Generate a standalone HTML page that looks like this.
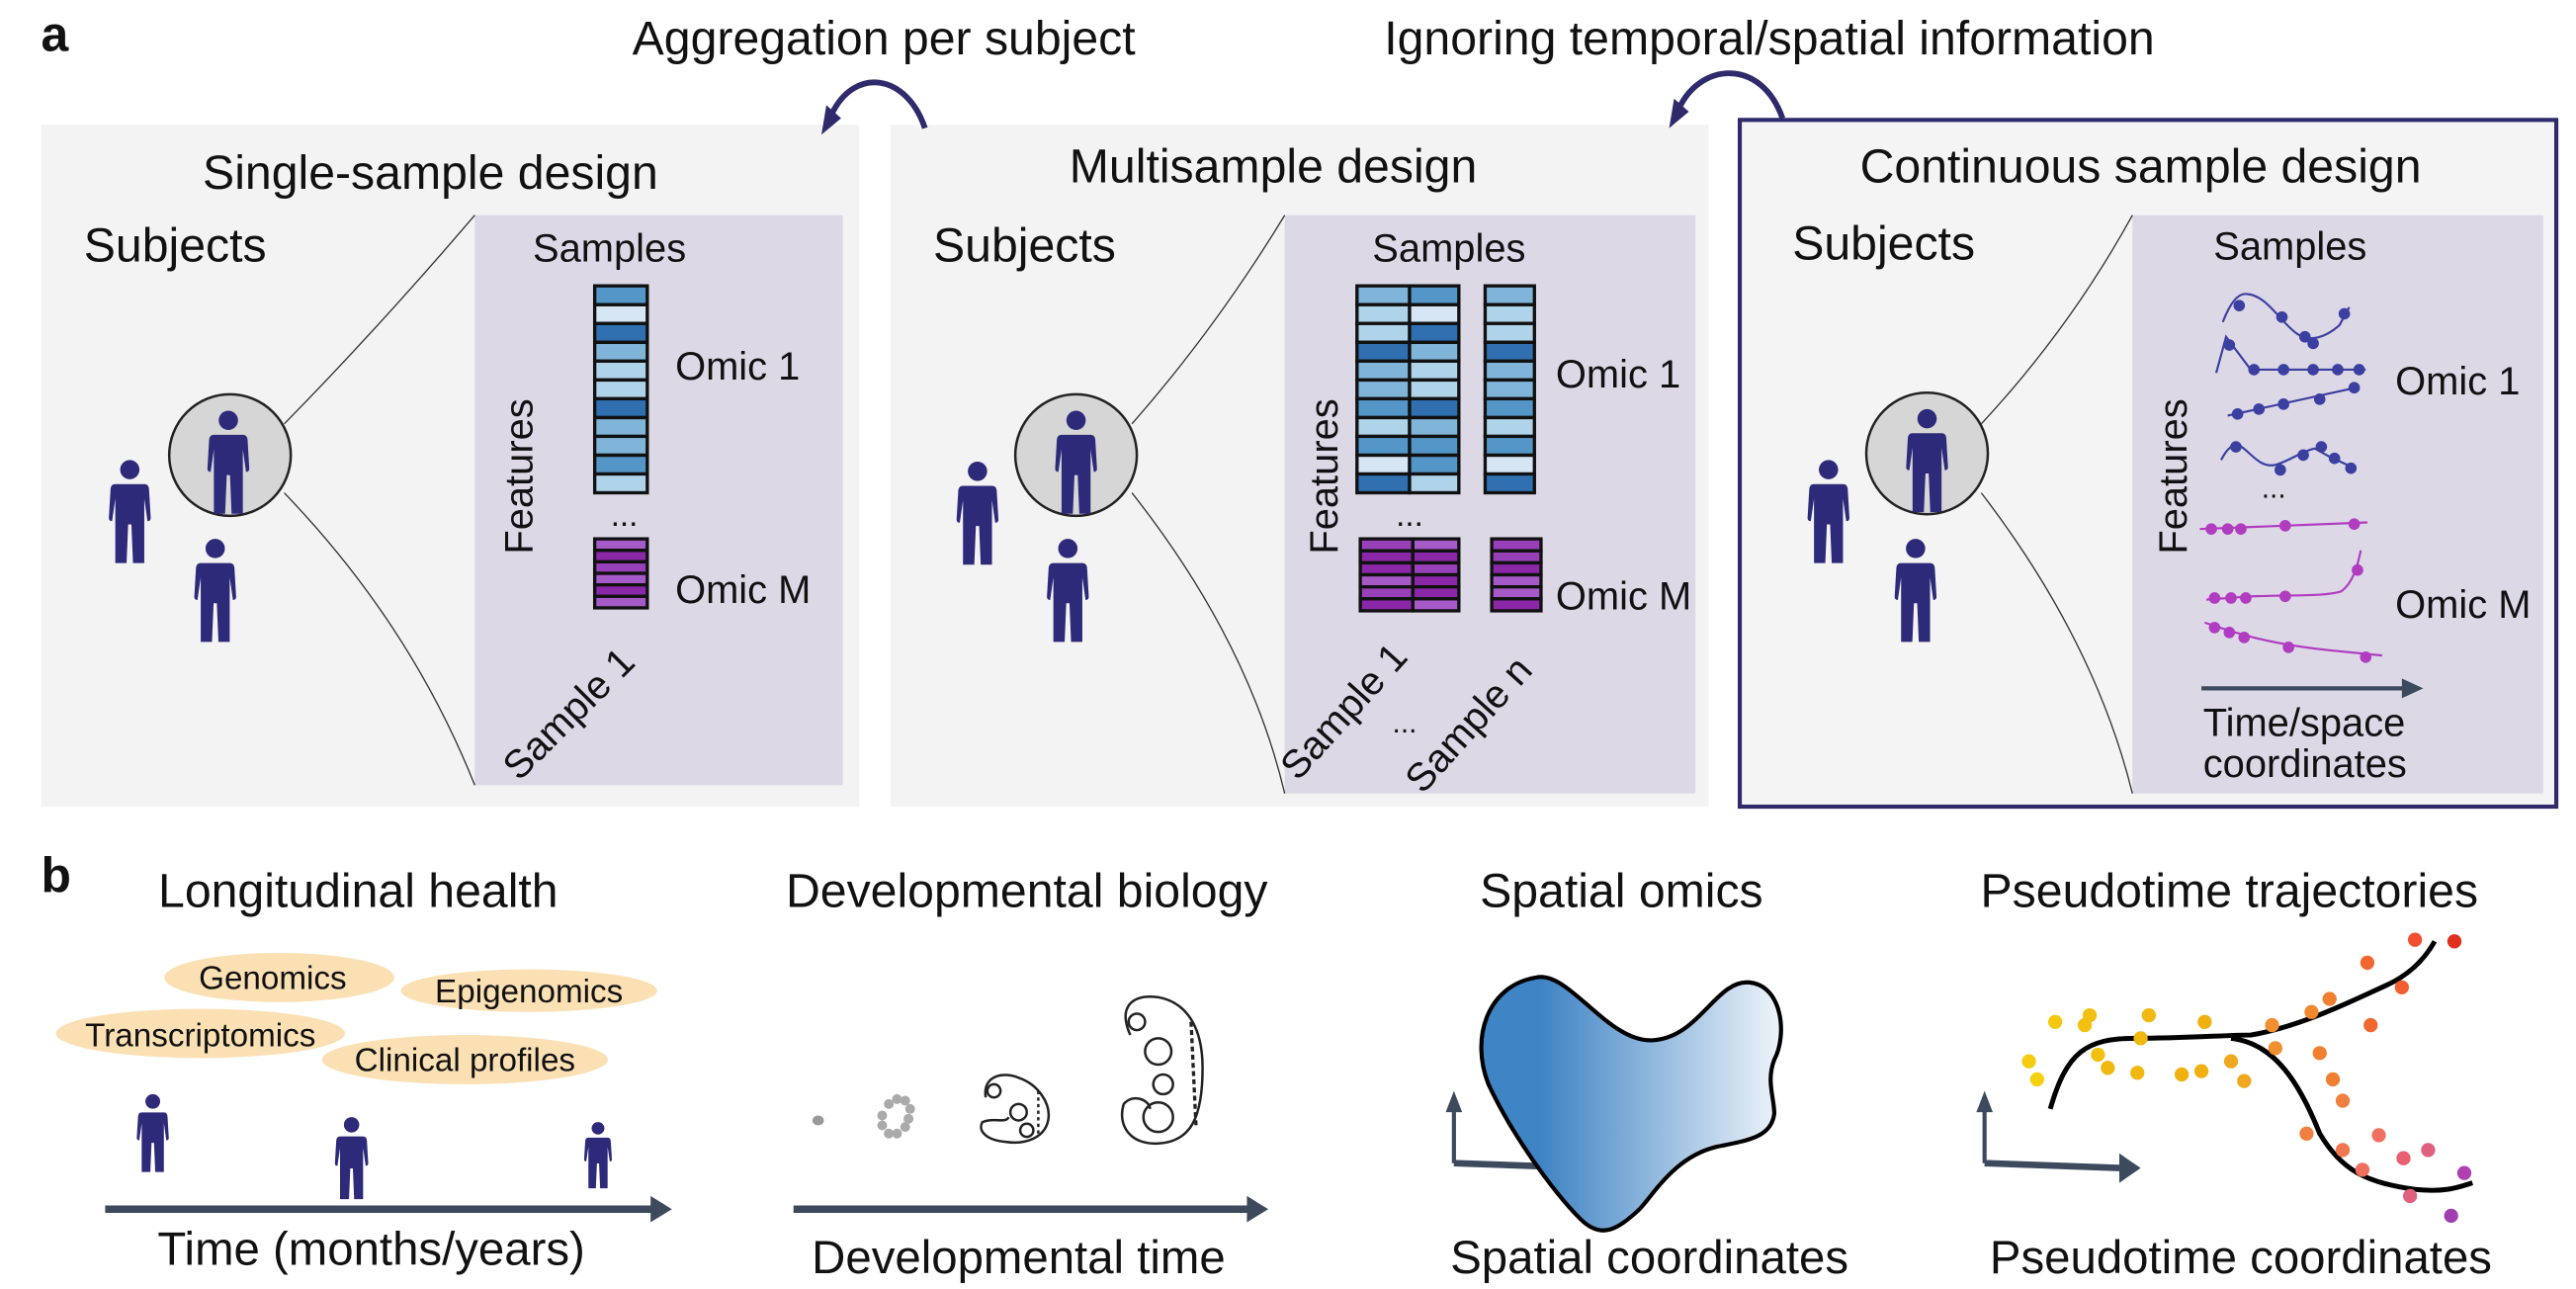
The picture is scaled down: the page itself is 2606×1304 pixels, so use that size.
<!DOCTYPE html>
<html><head><meta charset="utf-8"><style>
html,body{margin:0;padding:0;background:#fff;}
svg{display:block;}
text{font-family:"Liberation Sans",sans-serif;fill:#111;}
</style></head><body>
<svg width="2606" height="1304" viewBox="0 0 1568 784.6" preserveAspectRatio="none" xmlns="http://www.w3.org/2000/svg">
<defs>
<g id="p"><circle cx="0" cy="6" r="6" fill="#2e2a7a"/><path d="M-9,15 Q-12,15 -12,19 L-13,36 Q-13,38 -11,38 L-9,24 L-9,64 L-2,64 L-1,40 L1,40 L2,64 L9,64 L9,24 L11,38 Q13,38 13,36 L12,19 Q12,15 9,15 Z" fill="#2e2a7a"/></g>
<linearGradient id="bg" x1="0" x2="1"><stop offset="0.2" stop-color="#3f84c4"/><stop offset="1" stop-color="#eef4fa"/></linearGradient>
</defs>

<text x="25" y="31" font-size="30" font-weight="bold">a</text>
<text x="538" y="33" font-size="29" text-anchor="middle">Aggregation per subject</text>
<text x="1077" y="33" font-size="29" text-anchor="middle">Ignoring temporal/spatial information</text>

<rect x="25" y="76" width="498" height="415" fill="#f3f3f3"/>
<rect x="289" y="131" width="224" height="347" fill="#dcd8e6"/>
<rect x="542" y="76" width="498" height="415" fill="#f3f3f3"/>
<rect x="782" y="131" width="250" height="352" fill="#dcd8e6"/>
<rect x="1059" y="73" width="497" height="418" fill="#f4f4f4" stroke="#2e2a6b" stroke-width="2.5"/>
<rect x="1298" y="131" width="250" height="352" fill="#dcd8e6"/>

<path d="M563,78 C552,45 520,40 506,70" fill="none" stroke="#2e2a6b" stroke-width="3.5"/>
<path d="M500,82 L503,64 L512,72 Z" fill="#2e2a6b"/>
<path d="M1085,72 C1072,35 1035,38 1022,66" fill="none" stroke="#2e2a6b" stroke-width="3.5"/>
<path d="M1016,78 L1019,60 L1028,68 Z" fill="#2e2a6b"/>

<text x="262" y="115" font-size="29" text-anchor="middle">Single-sample design</text>
<text x="775" y="111" font-size="29" text-anchor="middle">Multisample design</text>
<text x="1303" y="111" font-size="29" text-anchor="middle">Continuous sample design</text>

<text x="51" y="159" font-size="29">Subjects</text>
<text x="568" y="159" font-size="29">Subjects</text>
<text x="1091" y="158" font-size="29">Subjects</text>

<text x="371" y="159" font-size="24" text-anchor="middle">Samples</text>
<text x="882" y="159" font-size="24" text-anchor="middle">Samples</text>
<text x="1394" y="158" font-size="24" text-anchor="middle">Samples</text>

<path d="M173,258 Q230,200 289,131" fill="none" stroke="#333" stroke-width="0.8"/>
<path d="M173,300 Q250,380 289,478" fill="none" stroke="#333" stroke-width="0.8"/>
<path d="M689,258 Q740,200 782,131" fill="none" stroke="#333" stroke-width="0.8"/>
<path d="M689,300 Q760,390 782,483" fill="none" stroke="#333" stroke-width="0.8"/>
<path d="M1206,258 Q1260,200 1298,131" fill="none" stroke="#333" stroke-width="0.8"/>
<path d="M1206,300 Q1275,390 1298,483" fill="none" stroke="#333" stroke-width="0.8"/>

<circle cx="140" cy="277" r="37" fill="#d6d6d6" stroke="#222" stroke-width="1.5"/>
<use href="#p" transform="translate(139,250) scale(0.98)"/>
<use href="#p" transform="translate(79,280) scale(0.98)"/>
<use href="#p" transform="translate(131,328) scale(0.98)"/>
<circle cx="655" cy="277" r="37" fill="#d6d6d6" stroke="#222" stroke-width="1.5"/>
<use href="#p" transform="translate(655,250) scale(0.98)"/>
<use href="#p" transform="translate(595,281) scale(0.98)"/>
<use href="#p" transform="translate(650,328) scale(0.98)"/>
<circle cx="1173" cy="276" r="37" fill="#d6d6d6" stroke="#222" stroke-width="1.5"/>
<use href="#p" transform="translate(1173,249) scale(0.98)"/>
<use href="#p" transform="translate(1113,280) scale(0.98)"/>
<use href="#p" transform="translate(1166,328) scale(0.98)"/>

<g stroke="#111" stroke-width="2">
<rect x="362" y="174.0" width="32" height="11.45" fill="#5596c8"/>
<rect x="362" y="185.5" width="32" height="11.45" fill="#d6e6f4"/>
<rect x="362" y="196.9" width="32" height="11.45" fill="#3070b0"/>
<rect x="362" y="208.4" width="32" height="11.45" fill="#80b4d8"/>
<rect x="362" y="219.8" width="32" height="11.45" fill="#afd3e8"/>
<rect x="362" y="231.3" width="32" height="11.45" fill="#afd3e8"/>
<rect x="362" y="242.7" width="32" height="11.45" fill="#3070b0"/>
<rect x="362" y="254.2" width="32" height="11.45" fill="#80b4d8"/>
<rect x="362" y="265.6" width="32" height="11.45" fill="#80b4d8"/>
<rect x="362" y="277.1" width="32" height="11.45" fill="#5596c8"/>
<rect x="362" y="288.5" width="32" height="11.45" fill="#afd3e8"/>
<rect x="362" y="328" width="32" height="7" fill="#a65ac8"/>
<rect x="362" y="335" width="32" height="7" fill="#8a28a8"/>
<rect x="362" y="342" width="32" height="7" fill="#9840b8"/>
<rect x="362" y="349" width="32" height="7" fill="#a65ac8"/>
<rect x="362" y="356" width="32" height="7" fill="#8a28a8"/>
<rect x="362" y="363" width="32" height="7" fill="#a65ac8"/>
</g>
<text x="411" y="231" font-size="24">Omic 1</text>
<text x="411" y="367" font-size="24">Omic M</text>
<text x="0" y="0" font-size="24" text-anchor="middle" transform="translate(324,290) rotate(-90)">Features</text>
<text x="380" y="320" font-size="20" text-anchor="middle">...</text>
<text x="0" y="0" font-size="24" transform="translate(316,476) rotate(-45)">Sample 1</text>

<g stroke="#111" stroke-width="2">
<rect x="826" y="174.0" width="32" height="11.45" fill="#80b4d8"/><rect x="858" y="174.0" width="30" height="11.45" fill="#5596c8"/><rect x="904" y="174.0" width="30" height="11.45" fill="#80b4d8"/>
<rect x="826" y="185.5" width="32" height="11.45" fill="#afd3e8"/><rect x="858" y="185.5" width="30" height="11.45" fill="#d6e6f4"/><rect x="904" y="185.5" width="30" height="11.45" fill="#afd3e8"/>
<rect x="826" y="196.9" width="32" height="11.45" fill="#afd3e8"/><rect x="858" y="196.9" width="30" height="11.45" fill="#3070b0"/><rect x="904" y="196.9" width="30" height="11.45" fill="#afd3e8"/>
<rect x="826" y="208.4" width="32" height="11.45" fill="#3070b0"/><rect x="858" y="208.4" width="30" height="11.45" fill="#80b4d8"/><rect x="904" y="208.4" width="30" height="11.45" fill="#3070b0"/>
<rect x="826" y="219.8" width="32" height="11.45" fill="#80b4d8"/><rect x="858" y="219.8" width="30" height="11.45" fill="#afd3e8"/><rect x="904" y="219.8" width="30" height="11.45" fill="#80b4d8"/>
<rect x="826" y="231.3" width="32" height="11.45" fill="#80b4d8"/><rect x="858" y="231.3" width="30" height="11.45" fill="#afd3e8"/><rect x="904" y="231.3" width="30" height="11.45" fill="#80b4d8"/>
<rect x="826" y="242.7" width="32" height="11.45" fill="#5596c8"/><rect x="858" y="242.7" width="30" height="11.45" fill="#3070b0"/><rect x="904" y="242.7" width="30" height="11.45" fill="#5596c8"/>
<rect x="826" y="254.2" width="32" height="11.45" fill="#afd3e8"/><rect x="858" y="254.2" width="30" height="11.45" fill="#80b4d8"/><rect x="904" y="254.2" width="30" height="11.45" fill="#afd3e8"/>
<rect x="826" y="265.6" width="32" height="11.45" fill="#5596c8"/><rect x="858" y="265.6" width="30" height="11.45" fill="#5596c8"/><rect x="904" y="265.6" width="30" height="11.45" fill="#5596c8"/>
<rect x="826" y="277.1" width="32" height="11.45" fill="#d6e6f4"/><rect x="858" y="277.1" width="30" height="11.45" fill="#5596c8"/><rect x="904" y="277.1" width="30" height="11.45" fill="#d6e6f4"/>
<rect x="826" y="288.5" width="32" height="11.45" fill="#3070b0"/><rect x="858" y="288.5" width="30" height="11.45" fill="#afd3e8"/><rect x="904" y="288.5" width="30" height="11.45" fill="#3070b0"/>
<rect x="828" y="328" width="32" height="7.3" fill="#9840b8"/><rect x="860" y="328" width="28" height="7.3" fill="#a65ac8"/><rect x="908" y="328" width="30" height="7.3" fill="#9840b8"/>
<rect x="828" y="335.3" width="32" height="7.3" fill="#8a28a8"/><rect x="860" y="335.3" width="28" height="7.3" fill="#8a28a8"/><rect x="908" y="335.3" width="30" height="7.3" fill="#9840b8"/>
<rect x="828" y="342.6" width="32" height="7.3" fill="#8a28a8"/><rect x="860" y="342.6" width="28" height="7.3" fill="#9840b8"/><rect x="908" y="342.6" width="30" height="7.3" fill="#8a28a8"/>
<rect x="828" y="349.9" width="32" height="7.3" fill="#a65ac8"/><rect x="860" y="349.9" width="28" height="7.3" fill="#8a28a8"/><rect x="908" y="349.9" width="30" height="7.3" fill="#a65ac8"/>
<rect x="828" y="357.2" width="32" height="7.3" fill="#9840b8"/><rect x="860" y="357.2" width="28" height="7.3" fill="#8a28a8"/><rect x="908" y="357.2" width="30" height="7.3" fill="#a65ac8"/>
<rect x="828" y="364.5" width="32" height="7.3" fill="#8a28a8"/><rect x="860" y="364.5" width="28" height="7.3" fill="#a65ac8"/><rect x="908" y="364.5" width="30" height="7.3" fill="#8a28a8"/>
</g>
<text x="947" y="236" font-size="24">Omic 1</text>
<text x="947" y="371" font-size="24">Omic M</text>
<text x="0" y="0" font-size="24" text-anchor="middle" transform="translate(814,290) rotate(-90)">Features</text>
<text x="858" y="320" font-size="20" text-anchor="middle">...</text>
<text x="0" y="0" font-size="24" transform="translate(790,476) rotate(-48)">Sample 1</text>
<text x="855" y="446" font-size="18" text-anchor="middle">...</text>
<text x="0" y="0" font-size="24" transform="translate(866,484) rotate(-48)">Sample n</text>

<g fill="none" stroke="#3b3fa0" stroke-width="1.3">
<path d="M1353,196 C1358,183 1363,178 1368,179 C1380,180 1388,196 1398,203 C1406,209 1416,205 1424,198 L1430,187"/>
<path d="M1349,227 L1355,205 L1370,225 L1440,225"/>
<path d="M1356,253 L1434,236"/>
<path d="M1352,280 C1356,272 1360,270 1363,271 C1370,275 1375,285 1385,283 C1395,280 1400,275 1409,273 L1418,278 L1431,284"/>
</g>
<g fill="#3b3fa0">
<circle cx="1363" cy="186" r="3.5"/><circle cx="1389" cy="193" r="3.5"/><circle cx="1408" cy="209" r="3.5"/><circle cx="1427" cy="191" r="3.5"/><circle cx="1403" cy="205" r="3.5"/>
<circle cx="1357" cy="210" r="3.5"/><circle cx="1372" cy="225" r="3.5"/><circle cx="1390" cy="225" r="3.5"/><circle cx="1408" cy="225" r="3.5"/><circle cx="1423" cy="225" r="3.5"/><circle cx="1436" cy="225" r="3.5"/>
<circle cx="1362" cy="252" r="3.5"/><circle cx="1390" cy="246" r="3.5"/><circle cx="1412" cy="243" r="3.5"/><circle cx="1433" cy="236" r="3.5"/><circle cx="1375" cy="249" r="3.5"/>
<circle cx="1361" cy="272" r="3.5"/><circle cx="1388" cy="286" r="3.5"/><circle cx="1413" cy="272" r="3.5"/><circle cx="1402" cy="277" r="3.5"/><circle cx="1421" cy="279" r="3.5"/><circle cx="1431" cy="285" r="3.5"/>
</g>
<g fill="none" stroke="#b03cc0" stroke-width="1.3">
<path d="M1339,322 L1441,318"/>
<path d="M1343,365 L1370,363 C1400,362 1415,363 1425,360 C1432,355 1435,345 1437,335"/>
<path d="M1342,379 C1360,385 1380,392 1420,396 L1450,399"/>
</g>
<g fill="#b03cc0">
<circle cx="1346" cy="322" r="3.5"/><circle cx="1356" cy="322" r="3.5"/><circle cx="1364" cy="322" r="3.5"/><circle cx="1391" cy="320" r="3.5"/><circle cx="1433" cy="319" r="3.5"/>
<circle cx="1348" cy="364" r="3.5"/><circle cx="1358" cy="364" r="3.5"/><circle cx="1367" cy="364" r="3.5"/><circle cx="1391" cy="363" r="3.5"/><circle cx="1435" cy="347" r="3.5"/>
<circle cx="1348" cy="382" r="3.5"/><circle cx="1357" cy="385" r="3.5"/><circle cx="1366" cy="388" r="3.5"/><circle cx="1393" cy="394" r="3.5"/><circle cx="1440" cy="400" r="3.5"/>
</g>
<text x="1384" y="303" font-size="18" text-anchor="middle">...</text>
<text x="1458" y="240" font-size="24">Omic 1</text>
<text x="1458" y="376" font-size="24">Omic M</text>
<text x="0" y="0" font-size="24" text-anchor="middle" transform="translate(1331,290) rotate(-90)">Features</text>
<line x1="1340" y1="419" x2="1464" y2="419" stroke="#3d4a5e" stroke-width="2.5"/>
<path d="M1462,413 L1475,419 L1462,425 Z" fill="#3d4a5e"/>
<text x="1341" y="448" font-size="24">Time/space</text>
<text x="1341" y="473" font-size="24">coordinates</text>

<text x="25" y="543" font-size="30" font-weight="bold">b</text>
<text x="218" y="552" font-size="29" text-anchor="middle">Longitudinal health</text>
<text x="625" y="552" font-size="29" text-anchor="middle">Developmental biology</text>
<text x="987" y="552" font-size="29" text-anchor="middle">Spatial omics</text>
<text x="1357" y="552" font-size="29" text-anchor="middle">Pseudotime trajectories</text>

<ellipse cx="170" cy="595" rx="70" ry="15" fill="#fbe0b4"/>
<ellipse cx="322" cy="603" rx="78" ry="13" fill="#fbe0b4"/>
<ellipse cx="122" cy="629" rx="88" ry="15" fill="#fbe0b4"/>
<ellipse cx="283" cy="645" rx="87" ry="15" fill="#fbe0b4"/>
<text x="166" y="602" font-size="20" text-anchor="middle">Genomics</text>
<text x="322" y="610" font-size="20" text-anchor="middle">Epigenomics</text>
<text x="122" y="637" font-size="20" text-anchor="middle">Transcriptomics</text>
<text x="283" y="652" font-size="20" text-anchor="middle">Clinical profiles</text>

<use href="#p" transform="translate(93,666) scale(0.75,0.74)"/>
<use href="#p" transform="translate(214,680) scale(0.78)"/>
<use href="#p" transform="translate(364,683) scale(0.65,0.63)"/>

<line x1="64" y1="736" x2="398" y2="736" stroke="#3d4a5e" stroke-width="4.5"/>
<path d="M396,728 L409,736 L396,744 Z" fill="#3d4a5e"/>
<text x="226" y="770" font-size="28.5" text-anchor="middle">Time (months/years)</text>

<line x1="483" y1="736" x2="761" y2="736" stroke="#3d4a5e" stroke-width="4.5"/>
<path d="M759,728 L772,736 L759,744 Z" fill="#3d4a5e"/>
<text x="620" y="775" font-size="28.5" text-anchor="middle">Developmental time</text>

<ellipse cx="498" cy="682" rx="3.5" ry="3" fill="#999"/>
<g fill="#aaa">
<circle cx="541" cy="672" r="3"/><circle cx="546" cy="669" r="3"/><circle cx="551" cy="670" r="3"/><circle cx="554" cy="675" r="3"/><circle cx="553" cy="681" r="3"/><circle cx="551" cy="686" r="3"/><circle cx="546" cy="690" r="3"/><circle cx="541" cy="690" r="3"/><circle cx="537" cy="685" r="3"/><circle cx="537" cy="679" r="3"/>
</g>
<g fill="none" stroke="#222" stroke-width="1.5">
<path d="M600,668 C598,655 610,652 620,656 C632,660 640,672 638,682 C636,692 625,697 612,695 C600,694 595,688 598,683 C605,680 612,684 614,680"/>
<circle cx="605" cy="664" r="4"/><circle cx="620" cy="677" r="5"/><circle cx="625" cy="688" r="4"/>
<path d="M632,664 L632,690" stroke-dasharray="2 2"/>
<path d="M688,630 C680,612 690,605 705,607 C722,610 732,625 732,650 C732,680 725,695 705,696 C688,697 680,685 684,672 C690,665 700,670 700,675"/>
<circle cx="692" cy="622" r="5"/><circle cx="705" cy="640" r="8"/><circle cx="705" cy="680" r="9"/><circle cx="708" cy="660" r="6"/>
<path d="M725,622 L728,685" stroke-dasharray="3 2" stroke-width="2"/>
</g>

<line x1="885" y1="708" x2="885" y2="675" stroke="#3d4a5e" stroke-width="2.5"/>
<path d="M880,677 L885,664 L890,677 Z" fill="#3d4a5e"/>
<line x1="885" y1="708" x2="970" y2="711" stroke="#3d4a5e" stroke-width="4"/>
<path d="M968,702 L981,711 L968,720 Z" fill="#3d4a5e"/>
<path d="M935,595 C955,590 980,637 1008,633 C1035,630 1045,596 1065,598 C1085,600 1088,630 1080,645 C1075,658 1080,668 1080,678 C1078,692 1065,694 1045,698 C1020,704 1008,725 998,736 C985,748 975,755 962,742 C945,725 920,690 906,660 C895,632 905,600 935,595 Z" fill="url(#bg)" stroke="#000" stroke-width="2.5"/>
<text x="1004" y="775" font-size="28.5" text-anchor="middle">Spatial coordinates</text>

<line x1="1208" y1="708" x2="1208" y2="675" stroke="#3d4a5e" stroke-width="2.5"/>
<path d="M1203,677 L1208,664 L1213,677 Z" fill="#3d4a5e"/>
<line x1="1208" y1="708" x2="1292" y2="711" stroke="#3d4a5e" stroke-width="4"/>
<path d="M1290,702 L1303,711 L1290,720 Z" fill="#3d4a5e"/>
<g fill="none" stroke="#000" stroke-width="3">
<path d="M1248,675 C1258,640 1270,632 1300,632 C1330,632 1355,630 1370,630 C1400,625 1430,610 1452,600 C1470,592 1478,580 1482,573"/>
<path d="M1358,632 C1385,635 1400,660 1412,690 C1425,712 1440,720 1470,724 C1490,726 1498,722 1505,720"/>
</g>
<g>
<circle cx="1240" cy="657" r="4.3" fill="#f5d010"/><circle cx="1235" cy="646" r="4.3" fill="#f5cc10"/><circle cx="1251" cy="622" r="4.3" fill="#f5c810"/><circle cx="1272" cy="618" r="4.3" fill="#f2c010"/><circle cx="1269" cy="624" r="4.3" fill="#f2c010"/>
<circle cx="1277" cy="642" r="4.3" fill="#f2c010"/><circle cx="1283" cy="650" r="4.3" fill="#f0b810"/><circle cx="1303" cy="632" r="4.3" fill="#f0b810"/><circle cx="1308" cy="618" r="4.3" fill="#f0b810"/><circle cx="1301" cy="653" r="4.3" fill="#f0b810"/>
<circle cx="1328" cy="654" r="4.3" fill="#f0b010"/><circle cx="1340" cy="652" r="4.3" fill="#f0b010"/><circle cx="1342" cy="622" r="4.3" fill="#f0b010"/><circle cx="1358" cy="646" r="4.3" fill="#f0a820"/><circle cx="1366" cy="658" r="4.3" fill="#f0a820"/>
<circle cx="1383" cy="624" r="4.3" fill="#f09030"/><circle cx="1385" cy="638" r="4.3" fill="#f09030"/><circle cx="1407" cy="616" r="4.3" fill="#f08830"/><circle cx="1418" cy="608" r="4.3" fill="#f08030"/><circle cx="1412" cy="641" r="4.3" fill="#f08030"/><circle cx="1420" cy="657" r="4.3" fill="#f08030"/>
<circle cx="1441" cy="586" r="4.3" fill="#f06830"/><circle cx="1443" cy="624" r="4.3" fill="#f06830"/><circle cx="1462" cy="601" r="4.3" fill="#f06030"/><circle cx="1470" cy="572" r="4.3" fill="#f05030"/><circle cx="1494" cy="573" r="4.3" fill="#e03020"/>
<circle cx="1404" cy="690" r="4.3" fill="#f08040"/><circle cx="1426" cy="670" r="4.3" fill="#f08040"/><circle cx="1426" cy="700" r="4.3" fill="#f07850"/><circle cx="1448" cy="691" r="4.3" fill="#f07060"/><circle cx="1438" cy="712" r="4.3" fill="#f07060"/>
<circle cx="1463" cy="705" r="4.3" fill="#e86070"/><circle cx="1478" cy="700" r="4.3" fill="#e06080"/><circle cx="1467" cy="728" r="4.3" fill="#e06080"/><circle cx="1500" cy="714" r="4.3" fill="#b040b0"/><circle cx="1492" cy="740" r="4.3" fill="#a040b0"/>
</g>
<text x="1364" y="775" font-size="28.5" text-anchor="middle">Pseudotime coordinates</text>
</svg>
</body></html>
